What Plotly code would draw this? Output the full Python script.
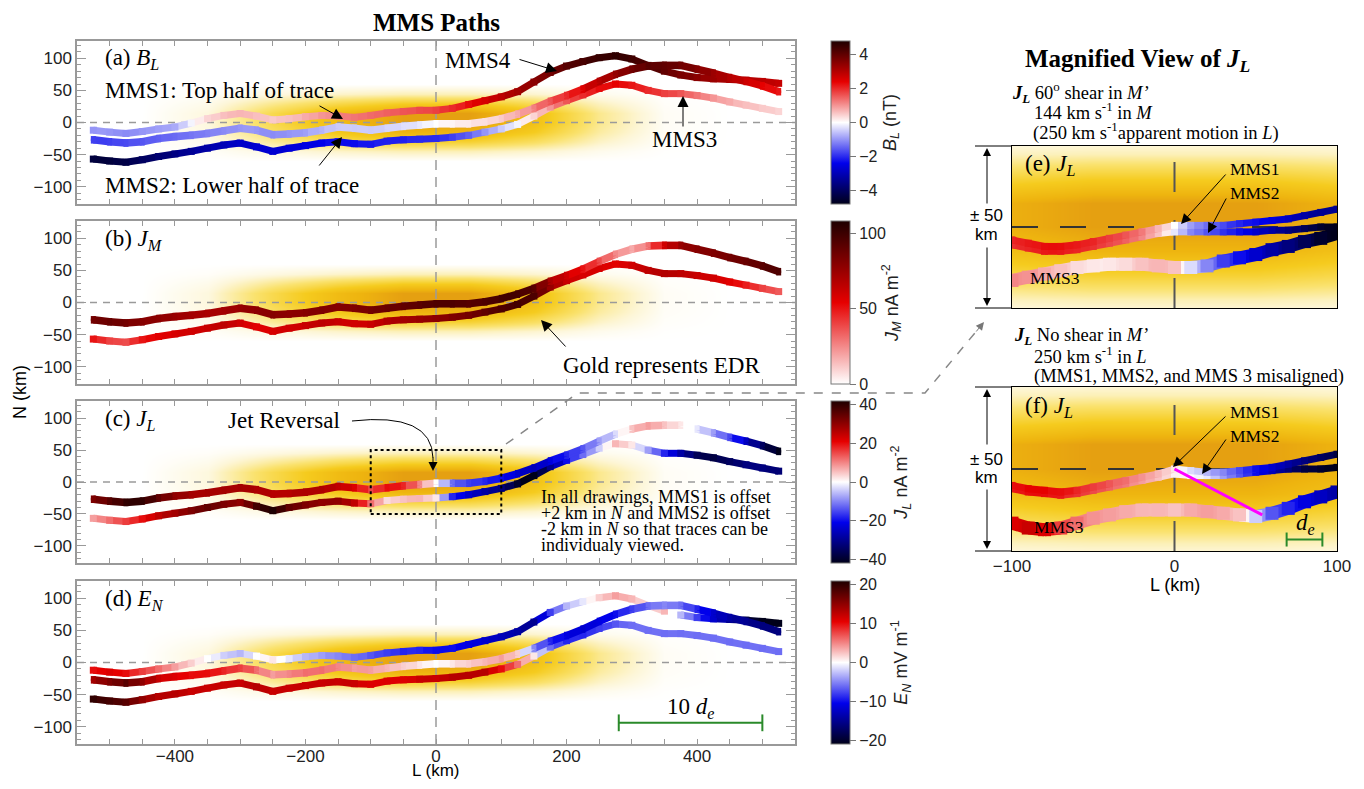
import numpy as np
import plotly.graph_objects as go
from plotly.colors import sample_colorscale

# ---------------- data ----------------
L_km = [-525, -500, -475, -450, -425, -400, -375, -350, -325, -300, -275, -250, -225, -200,
        -175, -150, -125, -100, -75, -50, -25, 0, 25, 50, 75, 100, 125, 150, 175, 200,
        225, 250, 275, 300, 325, 350, 375, 400, 425, 450, 475, 500, 525]

N_mms4 = [-12, -15, -17, -14, -10, -7, -1, 6, 11, 14, 10, 4, 6, 9, 11, 10, 8, 11, 15, 17, 19, 19,
          22, 28, 34, 40, 48, 63, 78, 88, 95, 101, 104, 99, 89, 80, 74, 70, 68, 67, 66, 64, 61]
N_mms12 = [-27, -30, -32, -30, -25, -22, -20, -17, -13, -9, -12, -19, -18, -16, -12, -7, -9, -12, -9, -6, -4, -2,
           -2, -2, 1, 6, 13, 22, 33, 42, 52, 64, 75, 83, 88, 89, 89, 83, 77, 70, 64, 57, 48]
N_mms3 = [-57, -60, -62, -58, -53, -49, -45, -40, -35, -32, -38, -45, -40, -36, -32, -30, -33, -34, -29, -27, -26, -25,
          -23, -20, -15, -10, -3, 10, 24, 34, 43, 53, 60, 58, 50, 45, 45, 42, 38, 32, 27, 22, 17]

# (a) B_L  (nT)
BL_mms4 = [-1.0, -1.0, -1.1, -1.0, -0.9, -0.8, -0.1, 0.4, 0.6, 0.7, 0.6, 0.5, 0.6, 0.8, 1.0, 1.2, 1.3, 1.4, 1.5, 1.6, 1.7, 1.8,
           2.0, 2.3, 2.6, 2.9, 3.2, 3.5, 3.8, 4.1, 4.3, 4.5, 4.6, 4.4, 4.2, 4.0, 3.7, 3.5, 3.3, 3.1, 3.0, 2.9, 2.8]
BL_mms12 = [-1.8, -1.8, -1.7, -1.6, -1.5, -1.4, -1.3, -1.2, -1.1, -1.0, -1.0, -1.1, -1.0, -0.9, -0.7, -0.5, -0.5, -0.5, -0.4, -0.3, -0.2, 0.0,
            0.1, 0.2, 0.3, 0.5, 0.8, 1.2, 1.6, 2.0, 2.5, 3.0, 3.4, 3.8, 4.1, 4.0, 3.8, 3.6, 3.3, 3.0, 2.7, 2.4, 2.2]
BL_mms3 = [-4.4, -4.4, -4.3, -4.0, -3.8, -3.6, -3.4, -3.2, -3.0, -2.8, -2.7, -2.7, -2.6, -2.5, -2.4, -2.3, -2.3, -2.2, -2.1, -2.1, -2.0, -2.0,
           -1.8, -1.5, -1.0, -0.5, -0.1, 0.4, 1.0, 1.6, 2.0, 2.3, 2.4, 2.2, 2.0, 1.8, 1.6, 1.3, 1.0, 0.8, 0.6, 0.5, 0.4]
# (b) J_M  (nA m^-2)
JM_mms12 = [85, 88, 85, 80, 78, 75, 72, 70, 72, 75, 78, 80, 78, 80, 82, 80, 82, 85, 88, 90, 92, 95,
            95, 93, 95, 98, 98, 92, 70, 60, 50, 38, 25, 18, 30, 60, 75, 80, 82, 85, 88, 92, 95]
JM_mms3 = [50, 40, 38, 50, 55, 58, 60, 62, 65, 60, 55, 58, 60, 62, 65, 62, 60, 62, 68, 72, 75, 78,
           82, 85, 90, 95, 98, 95, 75, 62, 58, 58, 55, 60, 65, 68, 65, 62, 60, 55, 48, 40, 35]
# (c) J_L  (nA m^-2)
JL_mms12 = [32, 36, 40, 40, 35, 30, 28, 28, 28, 28, 27, 26, 26, 27, 27, 25, 22, 15, 20, 18, 10, 0,
            -12, -16, -18, -20, -24, -26, -22, -18, -14, -8, -3, 5, 8, 5, 2, -2, -8, -15, -25, -35, -42]
JL_mms3 = [8, 12, 16, 20, 25, 28, 32, 35, 32, 30, 38, 42, 35, 32, 30, 30, 25, 12, 3, 5, 6, 2,
           -18, -24, -28, -32, -40, -44, -30, -20, -12, -4, 6, 2, -8, -18, -28, -36, -38, -35, -32, -32, -33]
# (d) E_N  (mV m^-1)
EN_mms4 = [10, 11, 10, 8, 6, 4, 2, 0, -2, -3, 0, 1, -1, -3, -4, -5, -6, -7, -8, -9, -9, -10,
           -10, -11, -12, -13, -14, -15, -8, -3, -1, 2, 4, 3, 1, 3, -3, -8, -12, -15, -19, -21, -22]
EN_mms12 = [14, 16, 18, 15, 12, 11, 10, 10, 9, 8, 6, 4, 5, 6, 6, 5, 4, 4, 3, 2, 1, 0,
            1, 2, 3, 4, 2, -5, -9, -11, -12, -11, -10, -8, -6, -5, -6, -9, -12, -14, -15, -16, -16]
EN_mms3 = [20, 19, 18, 15, 13, 13, 12, 12, 12, 12, 13, 12, 12, 12, 12, 12, 12, 11, 11, 11, 12, 12,
           13, 13, 13, 10, 6, 1, -6, -9, -9, -8, -7, -6, -6, -6, -6, -6, -6, -6, -6, -6, -6]

# magnified views (L in km, N in km, J_L in nA m^-2)
mag_L = [-100, -90, -80, -70, -60, -50, -40, -30, -20, -10, 0, 10, 20, 30, 40, 50, 60, 70, 80, 90, 100]
e_N1 = [-8, -10, -12, -12, -11, -9, -7, -5, -3, -1, 1, 1, 1, 1, 2, 3, 4, 5, 7, 9, 11]
e_N2 = [-11, -13, -15, -15, -14, -12, -10, -8, -6, -4, -3, -3, -3, -3, -3, -3, -2, -2, -1, 0, 0]
e_N3 = [-33, -31, -29, -27, -25, -24, -23, -23, -23, -24, -25, -25, -24, -21, -19, -17, -14, -12, -9, -7, -4]
e_J1 = [18, 19, 20, 20, 19, 18, 16, 14, 11, 6, 0, -8, -12, -15, -18, -20, -22, -25, -28, -30, -30]
e_J2 = [17, 18, 19, 19, 18, 17, 15, 13, 10, 5, -2, -10, -14, -17, -20, -24, -28, -32, -36, -40, -42]
e_J3 = [10, 9, 7, 5, 3, 2, 2, 3, 5, 6, 5, -3, -10, -16, -20, -24, -28, -32, -36, -40, -42]
f_N1 = [-10, -12, -13, -14, -13, -11, -9, -7, -5, -3, 0, -1, -2, -2, -1, 0, 1, 3, 5, 7, 9]
f_N2 = [-12, -14, -15, -16, -15, -13, -11, -9, -7, -5, -3, -4, -4, -4, -3, -2, -1, 0, 0, 0, 1]
f_N3 = [-33, -36, -37, -36, -33, -30, -28, -26, -25, -25, -25, -25, -26, -27, -28, -29, -27, -24, -20, -17, -14]
f_J1 = [20, 21, 21, 20, 18, 16, 14, 12, 9, 6, 2, -3, -6, -10, -15, -20, -24, -28, -32, -35, -38]
f_J2 = [19, 20, 20, 19, 17, 15, 13, 11, 8, 5, 1, 0, -2, -8, -14, -20, -26, -32, -38, -40, -42]
f_J3 = [22, 24, 22, 16, 12, 9, 8, 7, 6, 6, 5, 7, 8, 7, 5, -4, -14, -18, -22, -25, -28]
misalign_L = [0, 54]
misalign_N = [0, -28]

# EDR (gold) intensity profiles
edr_L = [-550, -450, -350, -250, -150, -50, 50, 150, 250, 350, 450, 550]
edr_L_w = [0, 0, 0.1, 0.45, 0.75, 0.95, 0.95, 0.7, 0.28, 0.03, 0, 0]
edr_N = [-125, -60, -45, -30, -15, 0, 15, 30, 45, 60, 125]
edr_N_w = [0, 0, 0.2, 0.55, 0.85, 1, 1, 0.6, 0.2, 0, 0]

scale_10de_L = [280, 500]
scale_de_L = [69, 91]

# ---------------- styling ----------------
OFF = 8                       # page body margin of the html page
W, H = 1364 - 2 * OFF, 789 - 2 * OFF
SERIF = "Liberation Serif"
SANS = "Liberation Sans"
DIV = [[0.0, 'rgb(0,0,26)'], [0.25, 'rgb(0,0,235)'], [0.5, 'rgb(255,255,255)'],
       [0.75, 'rgb(230,0,0)'], [1.0, 'rgb(30,0,0)']]
SEQ = [[0.0, 'rgb(255,255,255)'], [0.5, 'rgb(230,0,0)'], [1.0, 'rgb(30,0,0)']]
GOLD = [[0, 'rgb(255,255,255)'], [0.12, 'rgb(253,246,215)'], [0.35, 'rgb(250,226,110)'],
        [0.6, 'rgb(245,203,30)'], [0.82, 'rgb(238,180,15)'], [1, 'rgb(226,152,18)']]

L_RANGE = [-550, 550]
N_RANGE = [-127, 127]


def P(x, y):
    """page pixel -> paper fraction"""
    return (x - OFF) / W, 1 - (y - OFF) / H


def xdom(x0, x1):
    return [P(x0, 0)[0], P(x1, 0)[0]]


XL = xdom(77, 795)
XR = xdom(1012, 1337)
panel_px = {'a': (41, 204), 'b': (221, 384), 'c': (401, 563), 'd': (581, 744),
            'e': (146, 308), 'f': (387, 551)}


def ydom(k):
    t, b = panel_px[k]
    return [P(0, b)[1], P(0, t)[1]]


fig = go.Figure()

edr_z = np.outer(edr_N_w, edr_L_w)
axes = [('x', 'y'), ('x2', 'y2'), ('x3', 'y3'), ('x4', 'y4'), ('x5', 'y5'), ('x6', 'y6')]
for xa, ya in axes:
    fig.add_trace(go.Heatmap(x=edr_L, y=edr_N, z=edr_z, colorscale=GOLD, zmin=0, zmax=1,
                             zsmooth='best', showscale=False, hoverinfo='skip', xaxis=xa, yaxis=ya))

# reference dashed lines
for xa, ya in axes[:4]:
    fig.add_trace(go.Scatter(x=L_RANGE, y=[0, 0], mode='lines', xaxis=xa, yaxis=ya, hoverinfo='skip',
                             line=dict(color='#9a9a9a', width=1.5, dash='7px,6px'), showlegend=False))
    fig.add_trace(go.Scatter(x=[0, 0], y=N_RANGE, mode='lines', xaxis=xa, yaxis=ya, hoverinfo='skip',
                             line=dict(color='#9a9a9a', width=1.5, dash='10px,7px'), showlegend=False))
for xa, ya in axes[4:]:
    fig.add_trace(go.Scatter(x=[-100, 100], y=[0, 0], mode='lines', xaxis=xa, yaxis=ya, hoverinfo='skip',
                             line=dict(color='#333', width=2, dash='26px,22px'), showlegend=False))
    fig.add_trace(go.Scatter(x=[0, 0], y=[-50, 50], mode='lines', xaxis=xa, yaxis=ya, hoverinfo='skip',
                             line=dict(color='#555', width=2, dash='30px,28px'), showlegend=False))


def draw_track(L, N, vals, cs, cmin, cmax, ca, xa, ya, width, dy=0):
    groups = {}
    for i in range(len(L) - 1):
        v = 0.5 * (vals[i] + vals[i + 1])
        t = min(max((v - cmin) / (cmax - cmin), 0), 1)
        k = int(round(t * 100))
        xs, ys = groups.setdefault(k, ([], []))
        xs += [L[i], L[i + 1], None]
        ys += [N[i] + dy, N[i + 1] + dy, None]
    for k, (xs, ys) in groups.items():
        col = sample_colorscale(cs, [k / 100])[0]
        fig.add_trace(go.Scatter(x=xs, y=ys, mode='lines', line=dict(color=col, width=width),
                                 xaxis=xa, yaxis=ya, hoverinfo='skip', showlegend=False))
    fig.add_trace(go.Scatter(x=L, y=[n + dy for n in N], mode='markers',
                             marker=dict(symbol='square', size=width, color=vals, coloraxis=ca,
                                         line=dict(width=0)),
                             xaxis=xa, yaxis=ya, hoverinfo='skip', showlegend=False))


left_panels = [
    ('x', 'y', 'coloraxis', DIV, -4.8, 4.8, BL_mms12, BL_mms3, BL_mms4),
    ('x2', 'y2', 'coloraxis2', SEQ, 0, 108, JM_mms12, JM_mms3, None),
    ('x3', 'y3', 'coloraxis3', DIV, -42, 42, JL_mms12, JL_mms3, None),
    ('x4', 'y4', 'coloraxis4', DIV, -21, 21, EN_mms12, EN_mms3, EN_mms4),
]
for xa, ya, ca, cs, lo, hi, v12, v3, v4 in left_panels:
    if v4 is not None:
        draw_track(L_km, N_mms4, v4, cs, lo, hi, ca, xa, ya, 7)
    draw_track(L_km, N_mms3, v3, cs, lo, hi, ca, xa, ya, 7)
    draw_track(L_km, N_mms12, v12, cs, lo, hi, ca, xa, ya, 5, dy=-2)   # MMS2
    draw_track(L_km, N_mms12, v12, cs, lo, hi, ca, xa, ya, 5, dy=2)    # MMS1

for xa, ya, n1, n2, n3, j1, j2, j3 in [('x5', 'y5', e_N1, e_N2, e_N3, e_J1, e_J2, e_J3),
                                       ('x6', 'y6', f_N1, f_N2, f_N3, f_J1, f_J2, f_J3)]:
    draw_track(mag_L, n3, j3, DIV, -42, 42, 'coloraxis3', xa, ya, 13)
    draw_track(mag_L, n2, j2, DIV, -42, 42, 'coloraxis3', xa, ya, 7)
    draw_track(mag_L, n1, j1, DIV, -42, 42, 'coloraxis3', xa, ya, 7)

fig.add_trace(go.Scatter(x=misalign_L, y=misalign_N, mode='lines', line=dict(color='#ff00ff', width=3),
                         xaxis='x6', yaxis='y6', hoverinfo='skip', showlegend=False))

# scale bars
GREEN = '#2a8a2a'
fig.add_trace(go.Scatter(x=scale_10de_L, y=[-94, -94], mode='lines+markers', xaxis='x4', yaxis='y4',
                         line=dict(color=GREEN, width=2),
                         marker=dict(symbol='line-ns', size=12, line=dict(color=GREEN, width=2)),
                         hoverinfo='skip', showlegend=False))
fig.add_trace(go.Scatter(x=scale_de_L, y=[-43, -43], mode='lines+markers', xaxis='x6', yaxis='y6',
                         line=dict(color=GREEN, width=2),
                         marker=dict(symbol='line-ns', size=10, line=dict(color=GREEN, width=2)),
                         hoverinfo='skip', showlegend=False))

# ---------------- axes ----------------
tickfont = dict(family=SANS, size=17, color='#222')


def left_x(anchor, labels):
    return dict(domain=XL, range=L_RANGE, anchor=anchor, showline=True, mirror='ticks', linecolor='#999',
                linewidth=1.5, ticks='inside', ticklen=5, tickcolor='#999', tick0=0, dtick=200,
                minor=dict(dtick=50, ticklen=5, ticks='inside', tickcolor='#999'), automargin=False,
                showticklabels=labels, tickfont=tickfont, showgrid=False, zeroline=False,
                ticklabelstandoff=-4)


def left_y(anchor, k):
    return dict(domain=ydom(k), range=N_RANGE, anchor=anchor, showline=True, mirror='ticks', linecolor='#999',
                linewidth=1.5, ticks='inside', ticklen=9, tickcolor='#999', tick0=0, dtick=50,
                minor=dict(dtick=10, ticklen=4, ticks='inside', tickcolor='#999'), automargin=False,
                tickfont=tickfont, showgrid=False, zeroline=False)


def right_x(anchor, labels):
    return dict(domain=XR, range=[-100, 100], anchor=anchor, showline=True, mirror=True, linecolor='black',
                linewidth=1, ticks='', tickvals=[-100, 0, 100], showticklabels=labels, tickfont=tickfont,
                showgrid=False, zeroline=False, automargin=False)


def right_y(anchor, k):
    return dict(domain=ydom(k), range=[-50, 50], anchor=anchor, showline=True, mirror=True, linecolor='black',
                linewidth=1, ticks='', showticklabels=False, showgrid=False, zeroline=False, automargin=False)


def cbar(k, title, tickvals):
    t, b = panel_px[k]
    return dict(x=P(831, 0)[0], xanchor='left', y=P(0, (t + b) / 2)[1], yanchor='middle', len=(b - t) / H,
                thickness=19, ypad=0, xpad=0, outlinewidth=1, outlinecolor='#777', ticks='outside',
                ticklen=6, tickcolor='#777', tickvals=tickvals, tickfont=dict(family=SANS, size=16, color='#222'),
                title=dict(text=title, side='right', font=dict(family=SANS, size=18, color='#222')))


fig.update_layout(
    width=W, height=H, margin=dict(l=0, r=0, t=0, b=0, autoexpand=False), showlegend=False,
    plot_bgcolor='white', paper_bgcolor='white',
    xaxis=left_x('y', False), yaxis=left_y('x', 'a'),
    xaxis2=left_x('y2', False), yaxis2=left_y('x2', 'b'),
    xaxis3=left_x('y3', False), yaxis3=left_y('x3', 'c'),
    xaxis4=left_x('y4', True), yaxis4=left_y('x4', 'd'),
    xaxis5=right_x('y5', False), yaxis5=right_y('x5', 'e'),
    xaxis6=right_x('y6', True), yaxis6=right_y('x6', 'f'),
    coloraxis=dict(colorscale=DIV, cmin=-4.8, cmax=4.8,
                   colorbar=cbar('a', '<i>B<sub>L</sub></i> (nT)', [-4, -2, 0, 2, 4])),
    coloraxis2=dict(colorscale=SEQ, cmin=0, cmax=108,
                    colorbar=cbar('b', '<i>J<sub>M</sub></i> nA m<sup>-2</sup>', [0, 50, 100])),
    coloraxis3=dict(colorscale=DIV, cmin=-42, cmax=42,
                    colorbar=cbar('c', '<i>J<sub>L</sub></i> nA m<sup>-2</sup>', [-40, -20, 0, 20, 40])),
    coloraxis4=dict(colorscale=DIV, cmin=-21, cmax=21,
                    colorbar=cbar('d', '<i>E<sub>N</sub></i> mV m<sup>-1</sup>', [-20, -10, 0, 10, 20])),
)

# ---------------- annotations ----------------
ann = []


def text(x, y, s, size=23, family=SERIF, xanchor='left', color='black', angle=0):
    ax_, ay_ = P(x, y)
    ann.append(dict(x=ax_, y=ay_, xref='paper', yref='paper', text=s, showarrow=False, xanchor=xanchor,
                    yanchor='middle', textangle=angle, font=dict(family=family, size=size, color=color)))


def arrow(xh, yh, xt, yt, size=2.0, width=1.0, color='black'):
    ax_, ay_ = P(xh, yh)
    ann.append(dict(x=ax_, y=ay_, xref='paper', yref='paper', ax=xt - xh, ay=yt - yh, axref='pixel',
                    ayref='pixel', showarrow=True, arrowhead=2, arrowsize=size, arrowwidth=width,
                    arrowcolor=color, text=''))


text(436, 22, '<b>MMS Paths</b>', 25, xanchor='center')
text(103, 59, '(a) <i>B<sub>L</sub></i>')
text(103, 91, 'MMS1: Top half of trace')
text(103, 186, 'MMS2: Lower half of trace')
text(443, 60, 'MMS4')
text(650, 139, 'MMS3')
arrow(557, 71, 518, 59, size=2.2)
arrow(683, 96, 683, 128, size=2.2)
arrow(343, 119, 318, 105, size=2.2)
arrow(342, 137, 318, 167, size=2.2)
text(103, 240, '(b) <i>J<sub>M</sub></i>')
text(561, 366, 'Gold represents EDR')
arrow(541, 320, 567, 348, size=2.2)
text(103, 420, '(c) <i>J<sub>L</sub></i>')
text(226, 420, 'Jet Reversal')
for yy, s in zip([497, 513, 529, 545],
                 ['In all drawings, MMS1 is offset', '+2 km in <i>N</i> and MMS2 is offset',
                  '-2 km in <i>N</i> so that traces can be', 'individualy viewed.']):
    text(539, yy, s, 18)
text(103, 600, '(d) <i>E<sub>N</sub></i>')
text(690, 708, '10 <i>d<sub>e</sub></i>', 23, xanchor='center')
text(20, 392, 'N (km)', 18, SANS, xanchor='center', angle=-90)
text(436, 770, 'L (km)', 17, SANS, xanchor='center')

text(1137, 60, '<b>Magnified View of <i>J<sub>L</sub></i></b>', 25, xanchor='center')
text(1010, 92, '<b><i>J<sub>L</sub></i></b> 60<sup>o</sup> shear in <i>M’</i>', 18.5)
text(1032, 111, '144 km s<sup>-1</sup> in <i>M</i>', 18.5)
text(1031, 131, '(250 km s<sup>-1</sup>apparent motion in <i>L</i>)', 18.5)
text(1023, 165, '(e) <i>J<sub>L</sub></i>')
text(1228, 169, 'MMS1', 17.5)
text(1228, 193, 'MMS2', 17.5)
text(1028, 278, 'MMS3', 17.5)
arrow(1181, 224, 1227, 173, size=2.0)
arrow(1208, 233, 1227, 197, size=2.0)
text(987, 215, '± 50', 17, SANS, xanchor='center')
text(987, 234, 'km', 17, SANS, xanchor='center')
arrow(987, 148, 987, 205, size=1.6)
arrow(987, 306, 987, 246, size=1.6)

text(1012, 336, '<b><i>J<sub>L</sub></i></b> No shear in <i>M’</i>', 18.5)
text(1032, 355, '250 km s<sup>-1</sup> in <i>L</i>', 18.5)
text(1032, 376, '(MMS1, MMS2, and MMS 3 misaligned)', 18.5)
text(1023, 407, '(f) <i>J<sub>L</sub></i>')
text(1228, 412, 'MMS1', 17.5)
text(1228, 436, 'MMS2', 17.5)
text(1032, 527, 'MMS3', 17.5)
arrow(1173, 467, 1227, 415, size=2.0)
arrow(1202, 474, 1227, 438, size=2.0)
text(1305, 524, '<i>d<sub>e</sub></i>', 23, xanchor='center')
text(987, 459, '± 50', 17, SANS, xanchor='center')
text(987, 477, 'km', 17, SANS, xanchor='center')
arrow(987, 389, 987, 446, size=1.6)
arrow(987, 549, 987, 488, size=1.6)
text(1175, 585, 'L (km)', 18, SANS, xanchor='center')

# arrowheads for curved / connector paths
arrow(433, 471, 433, 456, size=1.8)
arrow(984, 322, 975, 333, size=1.6, color='#777')

# ---------------- shapes ----------------
shapes = []
shapes.append(dict(type='rect', xref='x3', yref='y3', x0=-100, x1=100, y0=-50, y1=50,
                   line=dict(color='black', width=2, dash='dot')))


def ppath(pts):
    s = ''
    for i, (x, y) in enumerate(pts):
        px_, py_ = P(x, y)
        s += ('M' if i == 0 else 'L') + f'{px_:.5f},{py_:.5f} '
    return s


shapes.append(dict(type='path', xref='paper', yref='paper',
                   path=ppath([(506, 444), (578, 393), (925, 393), (979, 328)]),
                   line=dict(color='#888', width=1.5, dash='dash')))
a0 = P(352, 421); a1 = P(432, 412); a2 = P(433, 458)
shapes.append(dict(type='path', xref='paper', yref='paper',
                   path=f'M{a0[0]:.5f},{a0[1]:.5f} Q{a1[0]:.5f},{a1[1]:.5f} {a2[0]:.5f},{a2[1]:.5f}',
                   line=dict(color='black', width=1)))
for yy in [146, 308, 387, 551]:
    p0 = P(975, yy); p1 = P(1012, yy)
    shapes.append(dict(type='line', xref='paper', yref='paper', x0=p0[0], y0=p0[1], x1=p1[0], y1=p1[1],
                       line=dict(color='black', width=1)))

fig.update_layout(annotations=ann, shapes=shapes)
fig.write_html("out.html")
